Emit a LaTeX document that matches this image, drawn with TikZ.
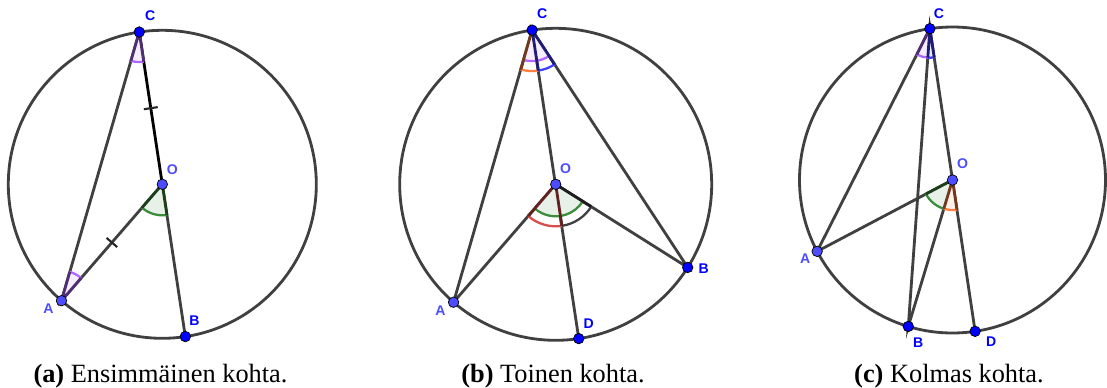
\documentclass[tikz,border=0pt]{standalone}
\usepackage{fontspec}
\setmainfont{Liberation Serif}
\setsansfont{Liberation Sans}
\usetikzlibrary{calc,angles}
\definecolor{harmaa}{HTML}{404040}
\definecolor{sininen}{HTML}{0000FF}
\definecolor{vaalea}{HTML}{4D4DFF}
\definecolor{vihrea}{HTML}{3C8C3C}
\definecolor{violetti}{HTML}{B266FF}
\definecolor{oranssi}{HTML}{FF7F3F}
\definecolor{punainen}{HTML}{D94C4C}
\definecolor{kulmasin}{HTML}{4040FF}

\begin{document}
\begin{tikzpicture}[x=0.02cm,y=0.02cm,
  ympyra/.style={draw=harmaa,line width=1.6pt},
  jana/.style={draw=harmaa,line width=1.6pt},
  piste/.style={circle,draw=black,line width=0.4pt,fill=sininen,inner sep=0pt,minimum size=0.21cm},
  vpiste/.style={piste,fill=vaalea},
  nimi/.style={font=\sffamily\bfseries\fontsize{8}{9}\selectfont,text=sininen,inner sep=0pt},
  vnimi/.style={nimi,text=vaalea},
  kulma/.style={draw=#1,fill=#1!12,line width=1.3pt},
  kaari/.style={draw=#1,line width=1.3pt},
  reuna/.style={draw=#1!45!black,line width=1.6pt},
  merkki/.style={draw=harmaa!60!black,line width=1.2pt},
  otsikko/.style={anchor=base,font=\fontsize{15}{18}\selectfont,inner sep=0pt}]

  \useasboundingbox (0,0) rectangle (1107,387);

  % (a)
  \coordinate (Oa) at (162.3,202.7);
  \coordinate (Ca) at ($(Oa)+(98.6:154)$);
  \coordinate (Aa) at ($(Oa)+(229.1:154)$);
  \coordinate (Ba) at ($(Oa)+(278.6:154)$);
  \draw[ympyra] (Oa) circle[radius=154];
  \draw[jana] (Ca) -- (Aa) -- (Oa) -- (Ba);
  \draw[jana,draw=black] (Ca) -- (Oa);
  \pic[kulma=violetti,angle radius=0.6cm] {angle=Aa--Ca--Oa};
  \pic[kulma=violetti,angle radius=0.6cm] {angle=Oa--Aa--Ca};
  \pic[kulma=vihrea,angle radius=0.62cm] {angle=Aa--Oa--Ba};
  \draw[reuna=violetti] ($(Ca)!0.6cm!(Aa)$) -- (Ca) -- ($(Ca)!0.6cm!(Oa)$);
  \draw[reuna=violetti] ($(Aa)!0.6cm!(Oa)$) -- (Aa) -- ($(Aa)!0.6cm!(Ca)$);
  \draw[reuna=vihrea] ($(Oa)!0.62cm!(Aa)$) -- (Oa) -- ($(Oa)!0.62cm!(Ba)$);
  \draw[merkki] ($(Ca)!0.5!(Oa)!0.14cm!90:(Oa)$) -- ($(Ca)!0.5!(Oa)!0.14cm!-90:(Oa)$);
  \draw[merkki] ($(Aa)!0.5!(Oa)!0.14cm!90:(Oa)$) -- ($(Aa)!0.5!(Oa)!0.14cm!-90:(Oa)$);
  \node[piste] (pCa) at (Ca) {};
  \node[vpiste] (pOa) at (Oa) {};
  \node[vpiste] (pAa) at (Aa) {};
  \node[piste] (pBa) at (Ba) {};
  \node[nimi] (nCa) at ([shift={(11,16)}]Ca) {C};
  \node[vnimi] (nOa) at ([shift={(10,15)}]Oa) {O};
  \node[vnimi] (nAa) at ([shift={(-13,-8)}]Aa) {A};
  \node[nimi] (nBa) at ([shift={(9,16)}]Ba) {B};
  \node[otsikko] (kuvaa) at (160.5,4.3) {\textbf{(a)} Ensimmäinen kohta.};

  % (b)
  \coordinate (Ob) at (555.7,202.7);
  \coordinate (Cb) at ($(Ob)+(98.7:156)$);
  \coordinate (Ab) at ($(Ob)+(229.1:156)$);
  \coordinate (Bb) at ($(Ob)+(327.8:156)$);
  \coordinate (Db) at ($(Ob)+(278.5:156)$);
  \draw[ympyra] (Ob) circle[radius=156];
  \draw[jana] (Cb) -- (Ab) -- (Ob) -- (Bb) -- (Cb) -- (Db);
  \pic[kulma=violetti,angle radius=0.62cm] {angle=Ab--Cb--Bb};
  \pic[kaari=oranssi,angle radius=0.82cm] {angle=Ab--Cb--Ob};
  \pic[kaari=kulmasin,angle radius=0.82cm] {angle=Ob--Cb--Bb};
  \pic[kulma=vihrea,angle radius=0.64cm] {angle=Ab--Ob--Bb};
  \pic[kaari=punainen,angle radius=0.84cm] {angle=Ab--Ob--Db};
  \pic[kaari=harmaa,angle radius=0.84cm] {angle=Db--Ob--Bb};
  \draw[reuna=oranssi] ($(Cb)!0.82cm!(Ab)$) -- (Cb);
  \draw[reuna=kulmasin] ($(Cb)!0.82cm!(Ob)$) -- (Cb) -- ($(Cb)!0.82cm!(Bb)$);
  \draw[reuna=punainen] ($(Ob)!0.84cm!(Ab)$) -- (Ob) -- ($(Ob)!0.84cm!(Db)$);
  \draw[reuna=harmaa] ($(Ob)!0.84cm!(Bb)$) -- (Ob);
  \node[piste] (pCb) at (Cb) {};
  \node[vpiste] (pOb) at (Ob) {};
  \node[vpiste] (pAb) at (Ab) {};
  \node[piste] (pBb) at (Bb) {};
  \node[piste] (pDb) at (Db) {};
  \node[nimi] (nCb) at ([shift={(10,16)}]Cb) {C};
  \node[vnimi] (nOb) at ([shift={(10,16)}]Ob) {O};
  \node[vnimi] (nAb) at ([shift={(-13,-8)}]Ab) {A};
  \node[nimi] (nBb) at ([shift={(16,-1)}]Bb) {B};
  \node[nimi] (nDb) at ([shift={(10,15)}]Db) {D};
  \node[otsikko] (kuvab) at (553,4.3) {\textbf{(b)} Toinen kohta.};

  % (c)
  \coordinate (Oc) at (952.5,207);
  \coordinate (Cc) at ($(Oc)+(98.5:153)$);
  \coordinate (Ac) at ($(Oc)+(207.8:153)$);
  \coordinate (Bc) at ($(Oc)+(253.2:153)$);
  \coordinate (Dc) at ($(Oc)+(278.5:153)$);
  \draw[ympyra] (Oc) circle[radius=153];
  \draw[jana] (Cc) -- (Ac) -- (Oc) -- (Bc) -- (Cc) -- (Dc);
  \pic[kulma=violetti,angle radius=0.58cm] {angle=Ac--Cc--Bc};
  \pic[kulma=kulmasin,angle radius=0.58cm] {angle=Bc--Cc--Dc};
  \pic[kulma=vihrea,angle radius=0.6cm] {angle=Ac--Oc--Bc};
  \pic[kulma=oranssi,angle radius=0.6cm] {angle=Bc--Oc--Dc};
  \draw[reuna=violetti] ($(Cc)!0.58cm!(Ac)$) -- (Cc);
  \draw[reuna=kulmasin] ($(Cc)!0.58cm!(Bc)$) -- (Cc) -- ($(Cc)!0.58cm!(Dc)$);
  \draw[reuna=vihrea] ($(Oc)!0.6cm!(Ac)$) -- (Oc);
  \draw[reuna=oranssi] ($(Oc)!0.6cm!(Bc)$) -- (Oc) -- ($(Oc)!0.6cm!(Dc)$);
  \node[piste] (pCc) at (Cc) {};
  \node[vpiste] (pOc) at (Oc) {};
  \node[vpiste] (pAc) at (Ac) {};
  \node[piste] (pBc) at (Bc) {};
  \node[piste] (pDc) at (Dc) {};
  \node[nimi] (nCc) at ([shift={(9,15)}]Cc) {C};
  \node[vnimi] (nOc) at ([shift={(10,16)}]Oc) {O};
  \node[vnimi] (nAc) at ([shift={(-12,-7)}]Ac) {A};
  \node[nimi] (nBc) at ([shift={(10,-16)}]Bc) {B};
  \node[nimi] (nDc) at ([shift={(16,-10)}]Dc) {D};
  \node[otsikko] (kuvac) at (949,4.3) {\textbf{(c)} Kolmas kohta.};
\end{tikzpicture}
\end{document}
